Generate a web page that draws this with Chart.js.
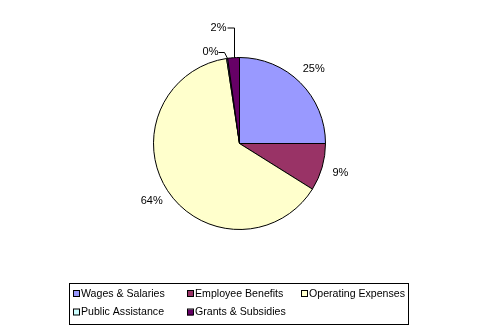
<!DOCTYPE html>
<html>
<head>
<meta charset="utf-8">
<script src="https://cdn.jsdelivr.net/npm/chart.js@4.4.0/dist/chart.umd.min.js"></script>
<style>
  html, body { margin: 0; padding: 0; background: #ffffff; }
  #wrap { width: 481px; height: 333px; position: relative; }
</style>
</head>
<body>
<div id="wrap"><canvas id="pie"></canvas></div>
<script>
// Chart data
const categories = ['Wages & Salaries', 'Employee Benefits', 'Operating Expenses', 'Public Assistance', 'Grants & Subsidies'];
const shares = [25.0, 8.9, 63.7, 0.2, 2.2];
const percentLabels = ['25%', '9%', '64%', '0%', '2%'];
const sliceColors = ['#9999FF', '#993366', '#FFFFCC', '#CCFFFF', '#660066'];

const FONT = '11px "Liberation Sans", Arial, sans-serif';
const LEGEND_FONT = '10.6px "Liberation Sans", Arial, sans-serif';

// Plugin to draw percent labels around the pie (with leader lines for tiny slices)
const sliceLabels = {
    id: 'sliceLabels',
    afterDatasetsDraw(chart) {
        const ctx = chart.ctx;
        const arcs = chart.getDatasetMeta(0).data;
        ctx.save();
        ctx.font = FONT;
        ctx.fillStyle = '#000';
        ctx.strokeStyle = '#000';
        ctx.lineWidth = 1;
        ctx.textBaseline = 'middle';
        arcs.forEach((arc, i) => {
            const mid = (arc.startAngle + arc.endAngle) / 2;
            const r = arc.outerRadius;
            const ex = arc.x + Math.cos(mid) * r;
            const ey = arc.y + Math.sin(mid) * r;
            if (i === 4) {
                // Grants: line straight up, then left
                const topY = arc.y - r - 30;
                const x = Math.round(ex) + 0.5;
                ctx.beginPath();
                ctx.moveTo(x, ey);
                ctx.lineTo(x, topY + 0.5);
                ctx.lineTo(x - 7, topY + 0.5);
                ctx.stroke();
                ctx.textAlign = 'right';
                ctx.fillText(percentLabels[i], x - 8, topY);
            } else if (i === 3) {
                // Public Assistance: short elbow up-left
                const x = Math.round(ex) + 0.5;
                const y = Math.round(ey - 6) + 0.5;
                ctx.beginPath();
                ctx.moveTo(x, ey);
                ctx.lineTo(x - 3, y);
                ctx.lineTo(x - 9, y);
                ctx.stroke();
                ctx.textAlign = 'right';
                ctx.fillText(percentLabels[i], x - 9, y - 1);
            } else {
                const d = r + 19;
                ctx.textAlign = 'center';
                ctx.fillText(percentLabels[i], arc.x + Math.cos(mid) * d, arc.y + Math.sin(mid) * d);
            }
        });
        ctx.restore();
    }
};

// Plugin to draw the boxed legend below the pie
const boxLegend = {
    id: 'boxLegend',
    afterDraw(chart) {
        const ctx = chart.ctx;
        const left = 69, top = 283, width = 339, height = 41;
        const colW = 114, rowH = 18.5;
        ctx.save();
        ctx.strokeStyle = '#000';
        ctx.lineWidth = 1;
        ctx.strokeRect(left + 0.5, top + 0.5, width, height);
        ctx.font = LEGEND_FONT;
        ctx.textAlign = 'left';
        ctx.textBaseline = 'middle';
        chart.data.labels.forEach((label, i) => {
            const col = i % 3, row = Math.floor(i / 3);
            const x = left + 4 + col * colW;
            const y = top + 11 + row * rowH;
            ctx.fillStyle = chart.data.datasets[0].backgroundColor[i];
            ctx.fillRect(x, y - 3, 6, 6);
            ctx.strokeRect(x + 0.5, y - 3.5, 6, 6);
            ctx.fillStyle = '#000';
            ctx.fillText(label, x + 8, y);
        });
        ctx.restore();
    }
};

new Chart(document.getElementById('pie'), {
    type: 'pie',
    data: {
        labels: categories,
        datasets: [{
            data: shares,
            backgroundColor: sliceColors,
            borderColor: '#000',
            borderWidth: 1
        }]
    },
    options: {
        responsive: true,
        maintainAspectRatio: false,
        animation: false,
        layout: { padding: { top: 57, bottom: 103, left: 0, right: 2 } },
        plugins: {
            legend: { display: false },
            tooltip: { enabled: false }
        }
    },
    plugins: [sliceLabels, boxLegend]
});
</script>
</body>
</html>
